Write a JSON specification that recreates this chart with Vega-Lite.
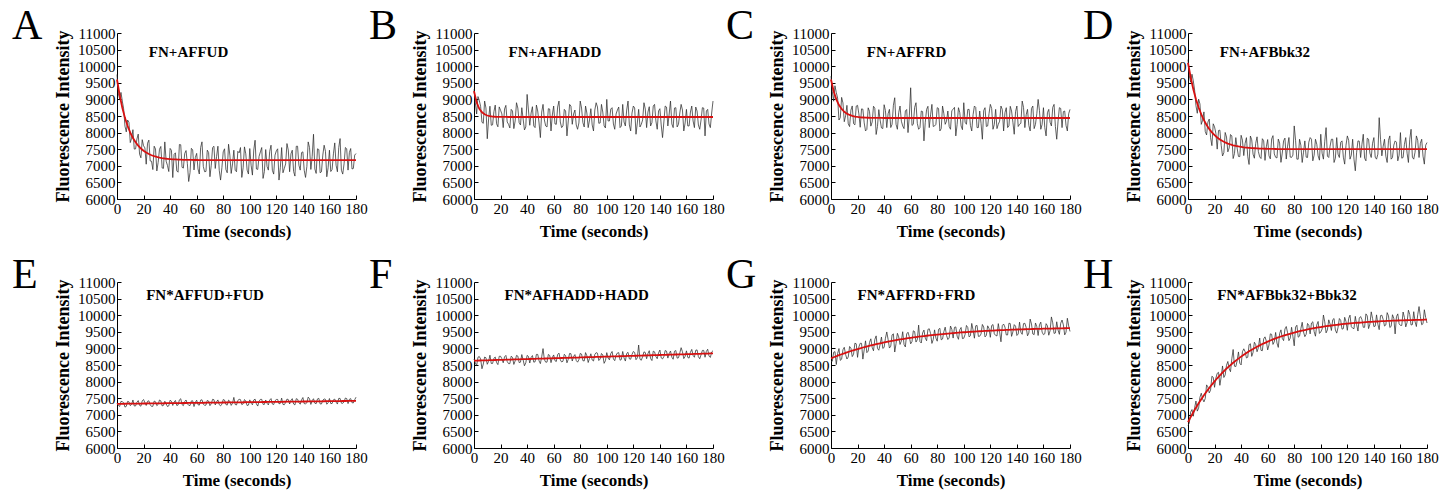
{
"$schema": "https://vega.github.io/schema/vega-lite/v6.json",
"background": "white",
"padding": {"left": 12, "top": 5, "right": 5, "bottom": 5},
"datasets": {"d": [
{"t":0,"A":9750,"fA":9600,"B":9300,"fB":9250,"C":9700,"fC":9600,"D":10200,"fD":10100,"E":7350,"fE":7330,"F":8680,"fF":8630,"G":8600,"fG":8700,"H":6680,"fH":6780},
{"t":2,"A":9010,"fA":9130,"B":8561,"fB":8911,"C":8946,"fC":9246,"D":9518,"fD":9668,"E":7251,"fE":7331,"F":8482,"fF":8632,"G":8883,"fG":8733,"H":7082,"fH":6932},
{"t":4,"A":8950,"fA":8750,"B":8969,"fB":8719,"C":9200,"fC":9000,"D":9558,"fD":9308,"E":7392,"fE":7332,"F":8755,"fF":8635,"G":8514,"fG":8764,"H":6957,"fH":7077},
{"t":6,"A":8194,"fA":8444,"B":8311,"fB":8611,"C":8379,"fC":8829,"D":8807,"fD":9007,"E":7233,"fE":7333,"F":8387,"fF":8637,"G":8995,"fG":8795,"H":7415,"fH":7215},
{"t":8,"A":8378,"fA":8198,"B":8950,"fB":8550,"C":9061,"fC":8711,"D":9007,"fD":8757,"E":7404,"fE":7334,"F":8740,"fF":8640,"G":8674,"fG":8824,"H":7196,"fH":7346},
{"t":10,"A":7699,"fA":7999,"B":7815,"fB":8515,"C":8328,"fC":8628,"D":8248,"fD":8548,"E":7275,"fE":7335,"F":8522,"fF":8642,"G":9033,"fG":8853,"H":7650,"fH":7470},
{"t":12,"A":8088,"fA":7838,"B":8795,"fB":8495,"C":8821,"fC":8571,"D":8624,"fD":8374,"E":7446,"fE":7336,"F":8795,"fF":8645,"G":8680,"fG":8880,"H":7389,"fH":7589},
{"t":14,"A":7509,"fA":7709,"B":8234,"fB":8484,"C":8181,"fC":8531,"D":7929,"fD":8229,"E":7267,"fE":7337,"F":8547,"fF":8647,"G":9057,"fG":8907,"H":7901,"fH":7701},
{"t":16,"A":7955,"fA":7605,"B":8828,"fB":8478,"C":8803,"fC":8503,"D":8408,"fD":8108,"E":7428,"fE":7338,"F":8740,"fF":8650,"G":8753,"fG":8933,"H":7659,"fH":7809},
{"t":18,"A":7241,"fA":7521,"B":8175,"fB":8475,"C":8234,"fC":8484,"D":7607,"fD":8007,"E":7259,"fE":7339,"F":8512,"fF":8652,"G":9157,"fG":8957,"H":8161,"fH":7911},
{"t":20,"A":7603,"fA":7453,"B":8673,"fB":8473,"C":8821,"fC":8471,"D":8172,"fD":7922,"E":7460,"fE":7340,"F":8764,"fF":8654,"G":8731,"fG":8981,"H":7828,"fH":8008},
{"t":22,"A":7048,"fA":7398,"B":8150,"fB":8472,"C":8161,"fC":8461,"D":7502,"fD":7852,"E":7281,"fE":7341,"F":8567,"fF":8657,"G":9154,"fG":9004,"H":8250,"fH":8100},
{"t":24,"A":7774,"fA":7354,"B":8820,"fB":8471,"C":8705,"fC":8455,"D":8074,"fD":7794,"E":7422,"fE":7342,"F":8789,"fF":8659,"G":8677,"fG":9027,"H":7888,"fH":8188},
{"t":26,"A":7138,"fA":7318,"B":8250,"fB":8470,"C":8050,"fC":8450,"D":7295,"fD":7745,"E":7253,"fE":7343,"F":8542,"fF":8662,"G":9228,"fG":9048,"H":8471,"fH":8271},
{"t":28,"A":7590,"fA":7290,"B":8700,"fB":8470,"C":8747,"fC":8447,"D":8004,"fD":7704,"E":7414,"fE":7344,"F":8764,"fF":8664,"G":8919,"fG":9069,"H":8201,"fH":8351},
{"t":30,"A":6846,"fA":7266,"B":8120,"fB":8470,"C":8195,"fC":8445,"D":7420,"fD":7670,"E":7275,"fE":7345,"F":8517,"fF":8667,"G":9289,"fG":9089,"H":8606,"fH":8426},
{"t":32,"A":7498,"fA":7248,"B":8900,"fB":8470,"C":8794,"fC":8444,"D":7942,"fD":7642,"E":7446,"fE":7346,"F":8789,"fF":8669,"G":8928,"fG":9108,"H":8298,"fH":8498},
{"t":34,"A":6933,"fA":7233,"B":8300,"fB":8470,"C":7943,"fC":8443,"D":7218,"fD":7618,"E":7267,"fE":7347,"F":8572,"fF":8672,"G":9377,"fG":9127,"H":8967,"fH":8567},
{"t":36,"A":7720,"fA":7220,"B":8750,"fB":8470,"C":8692,"fC":8442,"D":7849,"fD":7599,"E":7408,"fE":7348,"F":8814,"fF":8674,"G":8945,"fG":9145,"H":8452,"fH":8632},
{"t":38,"A":7011,"fA":7211,"B":8080,"fB":8470,"C":8141,"fC":8441,"D":7282,"fD":7582,"E":7249,"fE":7349,"F":8476,"fF":8676,"G":9342,"fG":9162,"H":8893,"fH":8693},
{"t":40,"A":7523,"fA":7203,"B":9150,"fB":8470,"C":8840,"fC":8440,"D":7919,"fD":7569,"E":7440,"fE":7350,"F":8789,"fF":8679,"G":9029,"fG":9179,"H":8502,"fH":8752},
{"t":42,"A":6646,"fA":7196,"B":8220,"fB":8470,"C":8150,"fC":8440,"D":7307,"fD":7557,"E":7281,"fE":7351,"F":8561,"fF":8681,"G":9495,"fG":9195,"H":8988,"fH":8808},
{"t":44,"A":7391,"fA":7191,"B":8780,"fB":8470,"C":8700,"fC":8440,"D":7848,"fD":7548,"E":7432,"fE":7352,"F":8784,"fF":8684,"G":9011,"fG":9211,"H":8711,"fH":8861},
{"t":46,"A":6807,"fA":7187,"B":8150,"fB":8470,"C":8250,"fC":8440,"D":7040,"fD":7540,"E":7293,"fE":7353,"F":8596,"fF":8686,"G":9406,"fG":9226,"H":9112,"fH":8912},
{"t":48,"A":7634,"fA":7184,"B":8650,"fB":8470,"C":9050,"fC":8440,"D":7783,"fD":7533,"E":7484,"fE":7354,"F":8819,"fF":8689,"G":8891,"fG":9241,"H":8760,"fH":8960},
{"t":50,"A":6931,"fA":7181,"B":7850,"fB":8470,"C":8100,"fC":8440,"D":7228,"fD":7528,"E":7275,"fE":7355,"F":8541,"fF":8691,"G":9455,"fG":9255,"H":9186,"fH":9006},
{"t":52,"A":7459,"fA":7179,"B":8850,"fB":8470,"C":8800,"fC":8440,"D":7873,"fD":7523,"E":7446,"fE":7356,"F":8994,"fF":8694,"G":9119,"fG":9269,"H":8900,"fH":9050},
{"t":54,"A":6527,"fA":7177,"B":8200,"fB":8470,"C":8200,"fC":8440,"D":7269,"fD":7519,"E":7287,"fE":7357,"F":8586,"fF":8696,"G":9502,"fG":9282,"H":9311,"fH":9091},
{"t":56,"A":7526,"fA":7176,"B":8720,"fB":8470,"C":8650,"fC":8440,"D":7816,"fD":7516,"E":7418,"fE":7358,"F":8818,"fF":8698,"G":9044,"fG":9294,"H":8931,"fH":9131},
{"t":58,"A":6875,"fA":7175,"B":8050,"fB":8470,"C":8000,"fC":8440,"D":7163,"fD":7513,"E":7249,"fE":7359,"F":8571,"fF":8701,"G":9487,"fG":9307,"H":9348,"fH":9168},
{"t":60,"A":7374,"fA":7174,"B":8800,"fB":8470,"C":9350,"fC":8440,"D":7791,"fD":7511,"E":7440,"fE":7360,"F":8803,"fF":8703,"G":9138,"fG":9318,"H":8954,"fH":9204},
{"t":62,"A":6753,"fA":7173,"B":8250,"fB":8470,"C":8250,"fC":8440,"D":7209,"fD":7509,"E":7291,"fE":7361,"F":8606,"fF":8706,"G":9530,"fG":9330,"H":9438,"fH":9238},
{"t":64,"A":7722,"fA":7172,"B":8950,"fB":8470,"C":8900,"fC":8440,"D":7908,"fD":7508,"E":7452,"fE":7362,"F":8858,"fF":8708,"G":9191,"fG":9341,"H":9120,"fH":9270},
{"t":66,"A":6822,"fA":7172,"B":8150,"fB":8470,"C":8100,"fC":8440,"D":7256,"fD":7506,"E":7283,"fE":7363,"F":8591,"fF":8711,"G":9702,"fG":9352,"H":9481,"fH":9301},
{"t":68,"A":7471,"fA":7171,"B":8700,"fB":8470,"C":8650,"fC":8440,"D":7805,"fD":7505,"E":7434,"fE":7364,"F":8823,"fF":8713,"G":9162,"fG":9362,"H":9030,"fH":9330},
{"t":70,"A":6671,"fA":7171,"B":7900,"fB":8470,"C":7750,"fC":8440,"D":7104,"fD":7504,"E":7275,"fE":7365,"F":8566,"fF":8716,"G":9552,"fG":9372,"H":9558,"fH":9358},
{"t":72,"A":7550,"fA":7170,"B":8850,"fB":8470,"C":8700,"fC":8440,"D":7754,"fD":7504,"E":7466,"fE":7366,"F":8848,"fF":8718,"G":9231,"fG":9381,"H":9234,"fH":9384},
{"t":74,"A":6920,"fA":7170,"B":8250,"fB":8470,"C":8150,"fC":8440,"D":7203,"fD":7503,"E":7297,"fE":7367,"F":8620,"fF":8720,"G":9591,"fG":9391,"H":9659,"fH":9409},
{"t":76,"A":7590,"fA":7170,"B":8680,"fB":8470,"C":8850,"fC":8440,"D":7852,"fD":7502,"E":7448,"fE":7368,"F":8813,"fF":8723,"G":9150,"fG":9400,"H":9233,"fH":9433},
{"t":78,"A":6570,"fA":7170,"B":8100,"fB":8470,"C":8200,"fC":8440,"D":7252,"fD":7502,"E":7269,"fE":7369,"F":8585,"fF":8725,"G":9558,"fG":9408,"H":9636,"fH":9456},
{"t":80,"A":7420,"fA":7170,"B":8950,"fB":8470,"C":8750,"fC":8440,"D":8201,"fD":7501,"E":7460,"fE":7370,"F":8848,"fF":8728,"G":9217,"fG":9417,"H":9078,"fH":9478},
{"t":82,"A":6890,"fA":7170,"B":8300,"fB":8470,"C":8050,"fC":8440,"D":7200,"fD":7501,"E":7311,"fE":7371,"F":8630,"fF":8730,"G":9605,"fG":9425,"H":9698,"fH":9498},
{"t":84,"A":7650,"fA":7170,"B":8800,"fB":8470,"C":8800,"fC":8440,"D":7800,"fD":7501,"E":7442,"fE":7372,"F":8873,"fF":8733,"G":9282,"fG":9432,"H":9368,"fH":9518},
{"t":86,"A":6770,"fA":7170,"B":8150,"fB":8470,"C":8250,"fC":8440,"D":7100,"fD":7500,"E":7283,"fE":7373,"F":8575,"fF":8735,"G":9640,"fG":9440,"H":9787,"fH":9537},
{"t":88,"A":7470,"fA":7170,"B":8720,"fB":8470,"C":8650,"fC":8440,"D":7750,"fD":7500,"E":7524,"fE":7374,"F":8838,"fF":8738,"G":9267,"fG":9447,"H":9354,"fH":9554},
{"t":90,"A":6820,"fA":7170,"B":8050,"fB":8470,"C":8100,"fC":8440,"D":7250,"fD":7500,"E":7295,"fE":7375,"F":8620,"fF":8740,"G":9674,"fG":9454,"H":9751,"fH":9571},
{"t":92,"A":7390,"fA":7170,"B":8900,"fB":8470,"C":8700,"fC":8440,"D":7850,"fD":7500,"E":7466,"fE":7376,"F":8872,"fF":8742,"G":9311,"fG":9461,"H":9437,"fH":9587},
{"t":94,"A":6650,"fA":7170,"B":8280,"fB":8470,"C":7900,"fC":8440,"D":7150,"fD":7500,"E":7307,"fE":7377,"F":8635,"fF":8745,"G":9647,"fG":9467,"H":9802,"fH":9602},
{"t":96,"A":7570,"fA":7170,"B":8850,"fB":8470,"C":8750,"fC":8440,"D":7800,"fD":7500,"E":7458,"fE":7378,"F":8847,"fF":8747,"G":9274,"fG":9474,"H":9367,"fH":9617},
{"t":98,"A":6870,"fA":7170,"B":8200,"fB":8470,"C":8200,"fC":8440,"D":7300,"fD":7500,"E":7279,"fE":7379,"F":8550,"fF":8750,"G":9630,"fG":9480,"H":9811,"fH":9631},
{"t":100,"A":7520,"fA":7170,"B":9000,"fB":8470,"C":8900,"fC":8440,"D":7950,"fD":7500,"E":7450,"fE":7380,"F":8872,"fF":8752,"G":9306,"fG":9486,"H":9494,"fH":9644},
{"t":102,"A":6720,"fA":7170,"B":8350,"fB":8470,"C":8250,"fC":8440,"D":7200,"fD":7500,"E":7301,"fE":7381,"F":8655,"fF":8755,"G":9691,"fG":9491,"H":10006,"fH":9656},
{"t":104,"A":7770,"fA":7170,"B":8750,"fB":8470,"C":8700,"fC":8440,"D":8150,"fD":7500,"E":7472,"fE":7382,"F":8907,"fF":8757,"G":9347,"fG":9497,"H":9468,"fH":9668},
{"t":106,"A":6890,"fA":7170,"B":8100,"fB":8470,"C":8050,"fC":8440,"D":7250,"fD":7500,"E":7263,"fE":7383,"F":8630,"fF":8760,"G":9752,"fG":9502,"H":9860,"fH":9680},
{"t":108,"A":7420,"fA":7170,"B":8680,"fB":8470,"C":8800,"fC":8440,"D":7800,"fD":7500,"E":7464,"fE":7384,"F":8862,"fF":8762,"G":9307,"fG":9507,"H":9540,"fH":9690},
{"t":110,"A":6620,"fA":7170,"B":8150,"fB":8470,"C":8150,"fC":8440,"D":7100,"fD":7500,"E":7315,"fE":7385,"F":8644,"fF":8764,"G":9692,"fG":9512,"H":9900,"fH":9700},
{"t":112,"A":7490,"fA":7170,"B":8850,"fB":8470,"C":8650,"fC":8440,"D":7850,"fD":7500,"E":7446,"fE":7386,"F":8907,"fF":8767,"G":9367,"fG":9517,"H":9460,"fH":9710},
{"t":114,"A":6870,"fA":7170,"B":8200,"fB":8470,"C":7800,"fC":8440,"D":7250,"fD":7500,"E":7297,"fE":7387,"F":8619,"fF":8769,"G":9721,"fG":9521,"H":9900,"fH":9720},
{"t":116,"A":7620,"fA":7170,"B":8950,"fB":8470,"C":8750,"fC":8440,"D":7750,"fD":7500,"E":7488,"fE":7388,"F":8882,"fF":8772,"G":9346,"fG":9526,"H":9579,"fH":9729},
{"t":118,"A":6750,"fA":7170,"B":8050,"fB":8470,"C":8200,"fC":8440,"D":7050,"fD":7500,"E":7309,"fE":7389,"F":8674,"fF":8774,"G":9680,"fG":9530,"H":9937,"fH":9737},
{"t":120,"A":7450,"fA":7170,"B":8800,"fB":8470,"C":8850,"fC":8440,"D":7900,"fD":7500,"E":7460,"fE":7390,"F":8907,"fF":8777,"G":9334,"fG":9534,"H":9545,"fH":9745},
{"t":122,"A":6570,"fA":7170,"B":7950,"fB":8470,"C":8100,"fC":8440,"D":7200,"fD":7500,"E":7331,"fE":7391,"F":8659,"fF":8779,"G":9718,"fG":9538,"H":10002,"fH":9752},
{"t":124,"A":7550,"fA":7170,"B":8700,"fB":8470,"C":8700,"fC":8440,"D":7800,"fD":7500,"E":7502,"fE":7392,"F":9102,"fF":8782,"G":9392,"fG":9542,"H":9609,"fH":9759},
{"t":126,"A":6920,"fA":7170,"B":8250,"fB":8470,"C":8250,"fC":8440,"D":6850,"fD":7500,"E":7303,"fE":7393,"F":8644,"fF":8784,"G":9746,"fG":9546,"H":9966,"fH":9766},
{"t":128,"A":7670,"fA":7170,"B":8900,"fB":8470,"C":8800,"fC":8440,"D":7750,"fD":7500,"E":7474,"fE":7394,"F":8896,"fF":8786,"G":9199,"fG":9549,"H":9523,"fH":9773},
{"t":130,"A":6820,"fA":7170,"B":8150,"fB":8470,"C":8050,"fC":8440,"D":7250,"fD":7500,"E":7325,"fE":7395,"F":8689,"fF":8789,"G":9733,"fG":9553,"H":9959,"fH":9779},
{"t":132,"A":7470,"fA":7170,"B":8780,"fB":8470,"C":8750,"fC":8440,"D":7950,"fD":7500,"E":7486,"fE":7396,"F":8931,"fF":8791,"G":9406,"fG":9556,"H":9635,"fH":9785},
{"t":134,"A":6690,"fA":7170,"B":8300,"fB":8470,"C":8200,"fC":8440,"D":7150,"fD":7500,"E":7297,"fE":7397,"F":8634,"fF":8794,"G":9759,"fG":9559,"H":10040,"fH":9790},
{"t":136,"A":7590,"fA":7170,"B":8850,"fB":8470,"C":8650,"fC":8440,"D":7800,"fD":7500,"E":7468,"fE":7398,"F":8896,"fF":8796,"G":9363,"fG":9563,"H":9596,"fH":9796},
{"t":138,"A":6870,"fA":7170,"B":8100,"fB":8470,"C":7950,"fC":8440,"D":7250,"fD":7500,"E":7319,"fE":7399,"F":8689,"fF":8799,"G":9716,"fG":9566,"H":10101,"fH":9801},
{"t":140,"A":7420,"fA":7170,"B":8720,"fB":8470,"C":8800,"fC":8440,"D":7850,"fD":7500,"E":7520,"fE":7400,"F":8951,"fF":8801,"G":9389,"fG":9569,"H":9656,"fH":9806},
{"t":142,"A":6650,"fA":7170,"B":7850,"fB":8470,"C":8250,"fC":8440,"D":7200,"fD":7500,"E":7331,"fE":7401,"F":8684,"fF":8804,"G":9791,"fG":9571,"H":10010,"fH":9810},
{"t":144,"A":7720,"fA":7170,"B":8800,"fB":8470,"C":8950,"fC":8440,"D":8450,"fD":7500,"E":7532,"fE":7402,"F":8936,"fF":8806,"G":9424,"fG":9574,"H":9565,"fH":9815},
{"t":146,"A":6890,"fA":7170,"B":8200,"fB":8470,"C":8150,"fC":8440,"D":7300,"fD":7500,"E":7313,"fE":7403,"F":8708,"fF":8808,"G":9757,"fG":9577,"H":9999,"fH":9819},
{"t":148,"A":7950,"fA":7170,"B":8950,"fB":8470,"C":8700,"fC":8440,"D":7800,"fD":7500,"E":7484,"fE":7404,"F":8921,"fF":8811,"G":9379,"fG":9579,"H":9673,"fH":9823},
{"t":150,"A":6770,"fA":7170,"B":8150,"fB":8470,"C":8050,"fC":8440,"D":7100,"fD":7500,"E":7335,"fE":7405,"F":8673,"fF":8813,"G":9882,"fG":9582,"H":10077,"fH":9827},
{"t":152,"A":7490,"fA":7170,"B":8750,"fB":8470,"C":8800,"fC":8440,"D":7900,"fD":7500,"E":7496,"fE":7406,"F":8936,"fF":8816,"G":9434,"fG":9584,"H":9630,"fH":9830},
{"t":154,"A":6820,"fA":7170,"B":8250,"fB":8470,"C":8250,"fC":8440,"D":7250,"fD":7500,"E":7327,"fE":7407,"F":8718,"fF":8818,"G":9766,"fG":9586,"H":10014,"fH":9834},
{"t":156,"A":7620,"fA":7170,"B":8850,"fB":8470,"C":9000,"fC":8440,"D":7750,"fD":7500,"E":7478,"fE":7408,"F":9021,"fF":8821,"G":9389,"fG":9589,"H":9437,"fH":9837},
{"t":158,"A":6670,"fA":7170,"B":8050,"fB":8470,"C":8100,"fC":8440,"D":7150,"fD":7500,"E":7319,"fE":7409,"F":8693,"fF":8823,"G":9791,"fG":9591,"H":10040,"fH":9840},
{"t":160,"A":7470,"fA":7170,"B":8700,"fB":8470,"C":8750,"fC":8440,"D":8000,"fD":7500,"E":7490,"fE":7410,"F":8926,"fF":8826,"G":9413,"fG":9593,"H":9693,"fH":9843},
{"t":162,"A":6890,"fA":7170,"B":8200,"fB":8470,"C":7900,"fC":8440,"D":7250,"fD":7500,"E":7341,"fE":7411,"F":8708,"fF":8828,"G":9745,"fG":9595,"H":10096,"fH":9846},
{"t":164,"A":7690,"fA":7170,"B":8800,"fB":8470,"C":8700,"fC":8440,"D":7850,"fD":7500,"E":7472,"fE":7412,"F":8970,"fF":8830,"G":9397,"fG":9597,"H":9648,"fH":9848},
{"t":166,"A":6820,"fA":7170,"B":8150,"fB":8470,"C":8200,"fC":8440,"D":7100,"fD":7500,"E":7323,"fE":7413,"F":8733,"fF":8833,"G":9948,"fG":9598,"H":10151,"fH":9851},
{"t":168,"A":7820,"fA":7170,"B":8650,"fB":8470,"C":8850,"fC":8440,"D":8100,"fD":7500,"E":7494,"fE":7414,"F":8955,"fF":8835,"G":9450,"fG":9600,"H":9703,"fH":9853},
{"t":170,"A":6750,"fA":7170,"B":8100,"fB":8470,"C":7800,"fC":8440,"D":7200,"fD":7500,"E":7345,"fE":7415,"F":8688,"fF":8838,"G":9802,"fG":9602,"H":10105,"fH":9855},
{"t":172,"A":7550,"fA":7170,"B":8750,"fB":8470,"C":8750,"fC":8440,"D":7900,"fD":7500,"E":7506,"fE":7416,"F":8940,"fF":8840,"G":9424,"fG":9604,"H":9658,"fH":9858},
{"t":174,"A":6870,"fA":7170,"B":7900,"fB":8470,"C":8150,"fC":8440,"D":7250,"fD":7500,"E":7337,"fE":7417,"F":8733,"fF":8843,"G":9855,"fG":9605,"H":10260,"fH":9860},
{"t":176,"A":7520,"fA":7170,"B":8700,"fB":8470,"C":8650,"fC":8440,"D":7800,"fD":7500,"E":7488,"fE":7418,"F":8975,"fF":8845,"G":9407,"fG":9607,"H":9712,"fH":9862},
{"t":178,"A":6920,"fA":7170,"B":8150,"fB":8470,"C":8050,"fC":8440,"D":7050,"fD":7500,"E":7359,"fE":7419,"F":8728,"fF":8848,"G":9908,"fG":9608,"H":10164,"fH":9864},
{"t":180,"A":7370,"fA":7170,"B":8950,"fB":8470,"C":8700,"fC":8440,"D":7700,"fD":7500,"E":7530,"fE":7420,"F":8930,"fF":8850,"G":9510,"fG":9610,"H":9765,"fH":9865},
{"t":1,"A":9185,"B":8900,"C":9231,"D":9704,"E":7283,"F":8565,"G":8614,"H":6754},
{"t":3,"A":9210,"B":9085,"C":9411,"D":9758,"E":7404,"F":8733,"G":8902,"H":7158},
{"t":5,"A":8717,"B":8785,"C":9043,"D":9278,"E":7365,"F":8680,"G":8848,"H":7214},
{"t":7,"A":8021,"B":8280,"C":8450,"D":8582,"E":7254,"F":8529,"G":8640,"H":7111},
{"t":9,"A":8308,"B":8742,"C":8894,"D":8863,"E":7391,"F":8718,"G":8958,"H":7527},
{"t":11,"A":7828,"B":8415,"C":8504,"D":8371,"E":7312,"F":8610,"G":8816,"H":7479},
{"t":13,"A":7503,"B":8220,"C":8263,"D":8032,"E":7265,"F":8547,"G":8741,"H":7492},
{"t":15,"A":7807,"B":8631,"C":8677,"D":8319,"E":7378,"F":8703,"G":9005,"H":7840},
{"t":17,"A":7353,"B":8266,"C":8270,"D":7848,"E":7283,"F":8574,"G":8826,"H":7741},
{"t":19,"A":7787,"B":8774,"C":8798,"D":8265,"E":7420,"F":8763,"G":9139,"H":8130},
{"t":21,"A":7539,"B":8562,"C":8562,"D":7977,"E":7365,"F":8689,"G":9044,"H":8105},
{"t":23,"A":7680,"B":8710,"C":8714,"D":8063,"E":7406,"F":8746,"G":9152,"H":8280},
{"t":25,"A":7146,"B":8320,"C":8293,"D":7620,"E":7303,"F":8606,"G":8953,"H":8145},
{"t":27,"A":6886,"B":8140,"C":8097,"D":7395,"E":7256,"F":8542,"G":8872,"H":8124},
{"t":29,"A":7506,"B":8650,"C":8638,"D":7867,"E":7393,"F":8731,"G":9181,"H":8491},
{"t":31,"A":7105,"B":8350,"C":8317,"D":7536,"E":7314,"F":8624,"G":9031,"H":8394},
{"t":33,"A":7582,"B":8740,"C":8732,"D":7900,"E":7419,"F":8769,"G":9271,"H":8686},
{"t":35,"A":6922,"B":8230,"C":8187,"D":7369,"E":7284,"F":8585,"G":9000,"H":8464},
{"t":37,"A":7139,"B":8410,"C":8378,"D":7531,"E":7333,"F":8653,"G":9120,"H":8629},
{"t":39,"A":6827,"B":8170,"C":8121,"D":7276,"E":7270,"F":8568,"G":9001,"H":8553},
{"t":41,"A":7466,"B":8680,"C":8664,"D":7773,"E":7407,"F":8757,"G":9306,"H":8899},
{"t":43,"A":7345,"B":8590,"C":8568,"D":7673,"E":7384,"F":8727,"G":9271,"H":8903},
{"t":45,"A":6847,"B":8200,"C":8152,"D":7274,"E":7281,"F":8586,"G":9066,"H":8734},
{"t":47,"A":7641,"B":8830,"C":8824,"D":7897,"E":7450,"F":8819,"G":9438,"H":9140},
{"t":49,"A":6954,"B":8290,"C":8248,"D":7351,"E":7307,"F":8624,"G":9146,"H":8881},
{"t":51,"A":7370,"B":8620,"C":8600,"D":7676,"E":7396,"F":8747,"G":9347,"H":9113},
{"t":53,"A":7064,"B":8380,"C":8344,"D":7431,"E":7333,"F":8662,"G":9225,"H":9020},
{"t":55,"A":6796,"B":8170,"C":8120,"D":7218,"E":7278,"F":8587,"G":9118,"H":8941},
{"t":57,"A":7479,"B":8710,"C":8696,"D":7755,"E":7423,"F":8788,"G":9437,"H":9286},
{"t":59,"A":7250,"B":8530,"C":8504,"D":7572,"E":7376,"F":8724,"G":9347,"H":9220},
{"t":61,"A":6907,"B":8260,"C":8216,"D":7300,"E":7305,"F":8628,"G":9205,"H":9102},
{"t":63,"A":7552,"B":8770,"C":8760,"D":7809,"E":7442,"F":8817,"G":9506,"H":9424},
{"t":65,"A":6982,"B":8320,"C":8280,"D":7357,"E":7323,"F":8654,"G":9262,"H":9201},
{"t":67,"A":6829,"B":8200,"C":8152,"D":7236,"E":7292,"F":8613,"G":9204,"H":9163},
{"t":69,"A":7399,"B":8650,"C":8632,"D":7685,"E":7413,"F":8780,"G":9469,"H":9446},
{"t":71,"A":7018,"B":8350,"C":8312,"D":7384,"E":7334,"F":8673,"G":9309,"H":9303},
{"t":73,"A":7588,"B":8800,"C":8792,"D":7834,"E":7455,"F":8840,"G":9573,"H":9584},
{"t":75,"A":7284,"B":8560,"C":8536,"D":7593,"E":7392,"F":8755,"G":9447,"H":9472},
{"t":77,"A":6866,"B":8230,"C":8184,"D":7262,"E":7305,"F":8636,"G":9268,"H":9309},
{"t":79,"A":6942,"B":8290,"C":8248,"D":7322,"E":7322,"F":8661,"G":9311,"H":9365},
{"t":81,"A":7512,"B":8740,"C":8728,"D":7770,"E":7443,"F":8828,"G":9574,"H":9641},
{"t":83,"A":6790,"B":8170,"C":8120,"D":7200,"E":7292,"F":8621,"G":9259,"H":9338},
{"t":85,"A":7322,"B":8590,"C":8568,"D":7620,"E":7405,"F":8778,"G":9504,"H":9596},
{"t":87,"A":7056,"B":8380,"C":8344,"D":7410,"E":7350,"F":8703,"G":9393,"H":9495},
{"t":89,"A":6866,"B":8230,"C":8184,"D":7260,"E":7311,"F":8651,"G":9315,"H":9427},
{"t":91,"A":7436,"B":8680,"C":8664,"D":7710,"E":7432,"F":8818,"G":9577,"H":9698},
{"t":93,"A":7550,"B":8770,"C":8760,"D":7800,"E":7457,"F":8854,"G":9634,"H":9765},
{"t":95,"A":6942,"B":8290,"C":8248,"D":7320,"E":7330,"F":8680,"G":9369,"H":9508},
{"t":97,"A":7360,"B":8620,"C":8600,"D":7650,"E":7419,"F":8804,"G":9562,"H":9709},
{"t":99,"A":6752,"B":8140,"C":8088,"D":7170,"E":7292,"F":8630,"G":9296,"H":9451},
{"t":101,"A":7018,"B":8350,"C":8312,"D":7380,"E":7349,"F":8709,"G":9421,"H":9582},
{"t":103,"A":7474,"B":8710,"C":8696,"D":7740,"E":7446,"F":8844,"G":9630,"H":9798},
{"t":105,"A":6904,"B":8260,"C":8216,"D":7290,"E":7327,"F":8681,"G":9381,"H":9555},
{"t":107,"A":7284,"B":8560,"C":8536,"D":7590,"E":7408,"F":8794,"G":9556,"H":9736},
{"t":109,"A":7550,"B":8770,"C":8760,"D":7800,"E":7465,"F":8873,"G":9680,"H":9865},
{"t":111,"A":6828,"B":8200,"C":8152,"D":7230,"E":7314,"F":8667,"G":9362,"H":9552},
{"t":113,"A":6980,"B":8320,"C":8280,"D":7350,"E":7347,"F":8713,"G":9434,"H":9630},
{"t":115,"A":7436,"B":8680,"C":8664,"D":7710,"E":7444,"F":8848,"G":9643,"H":9844},
{"t":117,"A":6866,"B":8230,"C":8184,"D":7260,"E":7325,"F":8685,"G":9392,"H":9597},
{"t":119,"A":7322,"B":8590,"C":8568,"D":7620,"E":7422,"F":8819,"G":9600,"H":9809},
{"t":121,"A":7512,"B":8740,"C":8728,"D":7770,"E":7463,"F":8877,"G":9689,"H":9902},
{"t":123,"A":6942,"B":8290,"C":8248,"D":7320,"E":7344,"F":8714,"G":9438,"H":9654},
{"t":125,"A":6790,"B":8170,"C":8120,"D":7200,"E":7313,"F":8673,"G":9374,"H":9593},
{"t":127,"A":7056,"B":8380,"C":8344,"D":7410,"E":7370,"F":8752,"G":9497,"H":9719},
{"t":129,"A":7474,"B":8710,"C":8696,"D":7740,"E":7459,"F":8876,"G":9687,"H":9912},
{"t":131,"A":7360,"B":8620,"C":8600,"D":7650,"E":7436,"F":8845,"G":9640,"H":9867},
{"t":133,"A":6828,"B":8200,"C":8152,"D":7230,"E":7325,"F":8694,"G":9405,"H":9635},
{"t":135,"A":7588,"B":8800,"C":8792,"D":7830,"E":7486,"F":8916,"G":9748,"H":9980},
{"t":137,"A":7018,"B":8350,"C":8312,"D":7380,"E":7367,"F":8753,"G":9497,"H":9731},
{"t":139,"A":7398,"B":8650,"C":8632,"D":7680,"E":7448,"F":8866,"G":9670,"H":9906},
{"t":141,"A":6866,"B":8230,"C":8184,"D":7260,"E":7337,"F":8714,"G":9434,"H":9672},
{"t":143,"A":6980,"B":8320,"C":8280,"D":7350,"E":7362,"F":8750,"G":9488,"H":9728},
{"t":145,"A":7550,"B":8770,"C":8760,"D":7800,"E":7483,"F":8917,"G":9746,"H":9987},
{"t":147,"A":7284,"B":8560,"C":8536,"D":7590,"E":7428,"F":8843,"G":9629,"H":9872},
{"t":149,"A":6904,"B":8260,"C":8216,"D":7290,"E":7349,"F":8735,"G":9462,"H":9706},
{"t":151,"A":7512,"B":8740,"C":8728,"D":7770,"E":7478,"F":8914,"G":9736,"H":9982},
{"t":153,"A":6790,"B":8170,"C":8120,"D":7200,"E":7327,"F":8707,"G":9415,"H":9662},
{"t":155,"A":7322,"B":8590,"C":8568,"D":7620,"E":7440,"F":8863,"G":9656,"H":9904},
{"t":157,"A":7436,"B":8680,"C":8664,"D":7710,"E":7465,"F":8899,"G":9709,"H":9958},
{"t":159,"A":6942,"B":8290,"C":8248,"D":7320,"E":7362,"F":8758,"G":9490,"H":9740},
{"t":161,"A":6828,"B":8200,"C":8152,"D":7230,"E":7339,"F":8728,"G":9441,"H":9692},
{"t":163,"A":7360,"B":8620,"C":8600,"D":7650,"E":7452,"F":8884,"G":9681,"H":9932},
{"t":165,"A":7018,"B":8350,"C":8312,"D":7380,"E":7381,"F":8788,"G":9530,"H":9782},
{"t":167,"A":7550,"B":8770,"C":8760,"D":7800,"E":7494,"F":8944,"G":9769,"H":10022},
{"t":169,"A":6866,"B":8230,"C":8184,"D":7260,"E":7351,"F":8749,"G":9465,"H":9718},
{"t":171,"A":7056,"B":8380,"C":8344,"D":7410,"E":7392,"F":8806,"G":9552,"H":9806},
{"t":173,"A":7512,"B":8740,"C":8728,"D":7770,"E":7489,"F":8940,"G":9758,"H":10012},
{"t":175,"A":7398,"B":8650,"C":8632,"D":7680,"E":7466,"F":8910,"G":9708,"H":9963},
{"t":177,"A":6904,"B":8260,"C":8216,"D":7290,"E":7363,"F":8769,"G":9489,"H":9744},
{"t":179,"A":7322,"B":8590,"C":8568,"D":7620,"E":7452,"F":8893,"G":9677,"H":9933}
]},
"columns": 4,
"spacing": {"row": 83, "column": 118},
"bounds": "flush",
"concat": [
{"data": {"name": "d"}, "width": 239, "height": 166, "title": "A", "layer": [
 {"mark": {"type": "line", "color": "#2e2e2e", "strokeWidth": 0.75}, "encoding": {"x": {"field": "t", "type": "quantitative", "scale": {"domain": [0, 180]}, "title": "Time (seconds)"}, "y": {"field": "A", "type": "quantitative", "scale": {"domain": [6000, 11000]}, "title": "Fluorescence Intensity", "axis": {"format": "d"}}}},
 {"mark": {"type": "line", "color": "#d81010", "strokeWidth": 1.8, "invalid": "filter"}, "encoding": {"x": {"field": "t", "type": "quantitative", "title": "Time (seconds)"}, "y": {"field": "fA", "type": "quantitative", "title": "Fluorescence Intensity", "axis": {"format": "d"}}}},
 {"data": {"values": [{"lab": "FN+AFFUD"}]}, "mark": {"type": "text", "font": "Liberation Serif, Times New Roman, Times, DejaVu Serif, serif", "fontWeight": "bold", "fontSize": 15, "align": "left", "baseline": "middle", "color": "black"}, "encoding": {"x": {"datum": 24}, "y": {"datum": 10430}, "text": {"field": "lab"}}}
]},
{"data": {"name": "d"}, "width": 239, "height": 166, "title": "B", "layer": [
 {"mark": {"type": "line", "color": "#2e2e2e", "strokeWidth": 0.75}, "encoding": {"x": {"field": "t", "type": "quantitative", "scale": {"domain": [0, 180]}, "title": "Time (seconds)"}, "y": {"field": "B", "type": "quantitative", "scale": {"domain": [6000, 11000]}, "title": "Fluorescence Intensity", "axis": {"format": "d"}}}},
 {"mark": {"type": "line", "color": "#d81010", "strokeWidth": 1.8, "invalid": "filter"}, "encoding": {"x": {"field": "t", "type": "quantitative", "title": "Time (seconds)"}, "y": {"field": "fB", "type": "quantitative", "title": "Fluorescence Intensity", "axis": {"format": "d"}}}},
 {"data": {"values": [{"lab": "FN+AFHADD"}]}, "mark": {"type": "text", "font": "Liberation Serif, Times New Roman, Times, DejaVu Serif, serif", "fontWeight": "bold", "fontSize": 15, "align": "left", "baseline": "middle", "color": "black"}, "encoding": {"x": {"datum": 26}, "y": {"datum": 10430}, "text": {"field": "lab"}}}
]},
{"data": {"name": "d"}, "width": 239, "height": 166, "title": "C", "layer": [
 {"mark": {"type": "line", "color": "#2e2e2e", "strokeWidth": 0.75}, "encoding": {"x": {"field": "t", "type": "quantitative", "scale": {"domain": [0, 180]}, "title": "Time (seconds)"}, "y": {"field": "C", "type": "quantitative", "scale": {"domain": [6000, 11000]}, "title": "Fluorescence Intensity", "axis": {"format": "d"}}}},
 {"mark": {"type": "line", "color": "#d81010", "strokeWidth": 1.8, "invalid": "filter"}, "encoding": {"x": {"field": "t", "type": "quantitative", "title": "Time (seconds)"}, "y": {"field": "fC", "type": "quantitative", "title": "Fluorescence Intensity", "axis": {"format": "d"}}}},
 {"data": {"values": [{"lab": "FN+AFFRD"}]}, "mark": {"type": "text", "font": "Liberation Serif, Times New Roman, Times, DejaVu Serif, serif", "fontWeight": "bold", "fontSize": 15, "align": "left", "baseline": "middle", "color": "black"}, "encoding": {"x": {"datum": 27}, "y": {"datum": 10430}, "text": {"field": "lab"}}}
]},
{"data": {"name": "d"}, "width": 239, "height": 166, "title": "D", "layer": [
 {"mark": {"type": "line", "color": "#2e2e2e", "strokeWidth": 0.75}, "encoding": {"x": {"field": "t", "type": "quantitative", "scale": {"domain": [0, 180]}, "title": "Time (seconds)"}, "y": {"field": "D", "type": "quantitative", "scale": {"domain": [6000, 11000]}, "title": "Fluorescence Intensity", "axis": {"format": "d"}}}},
 {"mark": {"type": "line", "color": "#d81010", "strokeWidth": 1.8, "invalid": "filter"}, "encoding": {"x": {"field": "t", "type": "quantitative", "title": "Time (seconds)"}, "y": {"field": "fD", "type": "quantitative", "title": "Fluorescence Intensity", "axis": {"format": "d"}}}},
 {"data": {"values": [{"lab": "FN+AFBbk32"}]}, "mark": {"type": "text", "font": "Liberation Serif, Times New Roman, Times, DejaVu Serif, serif", "fontWeight": "bold", "fontSize": 15, "align": "left", "baseline": "middle", "color": "black"}, "encoding": {"x": {"datum": 24}, "y": {"datum": 10430}, "text": {"field": "lab"}}}
]},
{"data": {"name": "d"}, "width": 239, "height": 166, "title": "E", "layer": [
 {"mark": {"type": "line", "color": "#2e2e2e", "strokeWidth": 0.75}, "encoding": {"x": {"field": "t", "type": "quantitative", "scale": {"domain": [0, 180]}, "title": "Time (seconds)"}, "y": {"field": "E", "type": "quantitative", "scale": {"domain": [6000, 11000]}, "title": "Fluorescence Intensity", "axis": {"format": "d"}}}},
 {"mark": {"type": "line", "color": "#d81010", "strokeWidth": 1.8, "invalid": "filter"}, "encoding": {"x": {"field": "t", "type": "quantitative", "title": "Time (seconds)"}, "y": {"field": "fE", "type": "quantitative", "title": "Fluorescence Intensity", "axis": {"format": "d"}}}},
 {"data": {"values": [{"lab": "FN*AFFUD+FUD"}]}, "mark": {"type": "text", "font": "Liberation Serif, Times New Roman, Times, DejaVu Serif, serif", "fontWeight": "bold", "fontSize": 15, "align": "left", "baseline": "middle", "color": "black"}, "encoding": {"x": {"datum": 22}, "y": {"datum": 10600}, "text": {"field": "lab"}}}
]},
{"data": {"name": "d"}, "width": 239, "height": 166, "title": "F", "layer": [
 {"mark": {"type": "line", "color": "#2e2e2e", "strokeWidth": 0.75}, "encoding": {"x": {"field": "t", "type": "quantitative", "scale": {"domain": [0, 180]}, "title": "Time (seconds)"}, "y": {"field": "F", "type": "quantitative", "scale": {"domain": [6000, 11000]}, "title": "Fluorescence Intensity", "axis": {"format": "d"}}}},
 {"mark": {"type": "line", "color": "#d81010", "strokeWidth": 1.8, "invalid": "filter"}, "encoding": {"x": {"field": "t", "type": "quantitative", "title": "Time (seconds)"}, "y": {"field": "fF", "type": "quantitative", "title": "Fluorescence Intensity", "axis": {"format": "d"}}}},
 {"data": {"values": [{"lab": "FN*AFHADD+HADD"}]}, "mark": {"type": "text", "font": "Liberation Serif, Times New Roman, Times, DejaVu Serif, serif", "fontWeight": "bold", "fontSize": 15, "align": "left", "baseline": "middle", "color": "black"}, "encoding": {"x": {"datum": 23}, "y": {"datum": 10600}, "text": {"field": "lab"}}}
]},
{"data": {"name": "d"}, "width": 239, "height": 166, "title": "G", "layer": [
 {"mark": {"type": "line", "color": "#2e2e2e", "strokeWidth": 0.75}, "encoding": {"x": {"field": "t", "type": "quantitative", "scale": {"domain": [0, 180]}, "title": "Time (seconds)"}, "y": {"field": "G", "type": "quantitative", "scale": {"domain": [6000, 11000]}, "title": "Fluorescence Intensity", "axis": {"format": "d"}}}},
 {"mark": {"type": "line", "color": "#d81010", "strokeWidth": 1.8, "invalid": "filter"}, "encoding": {"x": {"field": "t", "type": "quantitative", "title": "Time (seconds)"}, "y": {"field": "fG", "type": "quantitative", "title": "Fluorescence Intensity", "axis": {"format": "d"}}}},
 {"data": {"values": [{"lab": "FN*AFFRD+FRD"}]}, "mark": {"type": "text", "font": "Liberation Serif, Times New Roman, Times, DejaVu Serif, serif", "fontWeight": "bold", "fontSize": 15, "align": "left", "baseline": "middle", "color": "black"}, "encoding": {"x": {"datum": 20}, "y": {"datum": 10600}, "text": {"field": "lab"}}}
]},
{"data": {"name": "d"}, "width": 239, "height": 166, "title": "H", "layer": [
 {"mark": {"type": "line", "color": "#2e2e2e", "strokeWidth": 0.75}, "encoding": {"x": {"field": "t", "type": "quantitative", "scale": {"domain": [0, 180]}, "title": "Time (seconds)"}, "y": {"field": "H", "type": "quantitative", "scale": {"domain": [6000, 11000]}, "title": "Fluorescence Intensity", "axis": {"format": "d"}}}},
 {"mark": {"type": "line", "color": "#d81010", "strokeWidth": 1.8, "invalid": "filter"}, "encoding": {"x": {"field": "t", "type": "quantitative", "title": "Time (seconds)"}, "y": {"field": "fH", "type": "quantitative", "title": "Fluorescence Intensity", "axis": {"format": "d"}}}},
 {"data": {"values": [{"lab": "FN*AFBbk32+Bbk32"}]}, "mark": {"type": "text", "font": "Liberation Serif, Times New Roman, Times, DejaVu Serif, serif", "fontWeight": "bold", "fontSize": 15, "align": "left", "baseline": "middle", "color": "black"}, "encoding": {"x": {"datum": 22}, "y": {"datum": 10600}, "text": {"field": "lab"}}}
]}
],
"config": {
 "view": {"stroke": null},
 "font": "Liberation Serif, Times New Roman, Times, DejaVu Serif, serif",
 "axis": {"grid": false, "domainColor": "black", "tickColor": "black", "labelColor": "black", "titleColor": "black", "labelFont": "Liberation Serif, Times New Roman, Times, DejaVu Serif, serif", "labelFontSize": 15, "titleFont": "Liberation Serif, Times New Roman, Times, DejaVu Serif, serif", "titleFontSize": 17, "titleFontWeight": "bold", "tickSize": -4, "labelPadding": 6, "labelFlush": false, "labelOverlap": false, "tickCount": 10, "domainWidth": 1, "tickWidth": 1},
 "axisX": {"titlePadding": 7, "titleFontSize": 17},
 "axisY": {"titlePadding": 5, "titleFontSize": 18},
 "title": {"font": "Liberation Serif, Times New Roman, Times, DejaVu Serif, serif", "fontSize": 42, "fontWeight": "normal", "color": "black", "anchor": "start", "frame": "group", "dx": -105, "dy": 26, "baseline": "alphabetic", "offset": 0}
}
}
